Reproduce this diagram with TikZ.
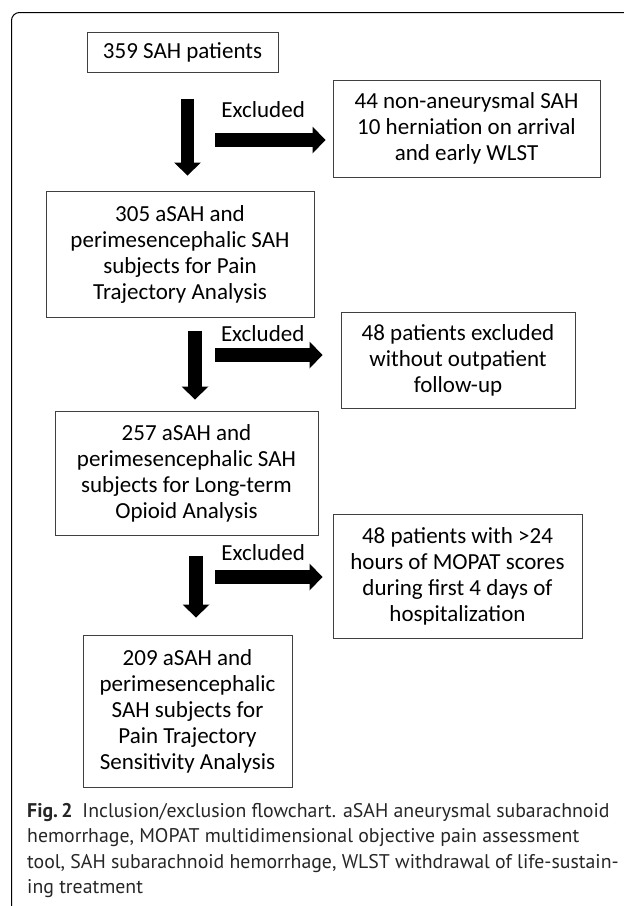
\documentclass[tikz,border=0pt]{standalone}
\usepackage{fontspec}
\setmainfont{Carlito}
\newfontfamily\capfont{PT Sans}
\usetikzlibrary{positioning, arrows.meta}

\begin{document}
\begin{tikzpicture}[x=1pt, y=-1pt,
    box/.style={rectangle, draw=black!75, line width=1pt, align=center, inner sep=0pt, font=\fontsize{23}{26}\selectfont},
    bigarrow/.style={line width=13.5pt, -{Triangle[width=27pt, length=13pt, line width=0pt]}},
    excl/.style={inner sep=0pt, font=\fontsize{23}{26}\selectfont},
]
\useasboundingbox (0,0) rectangle (624,906);

% frame of the figure
\draw[line width=1pt, rounded corners=8pt] (640,12.5) -- (11.5,12.5) -- (11.5,914) -- (40,914);

% main column
\node (all) [box, minimum width=191pt, minimum height=40pt] at (182.5,52) {359 SAH patients};
\node (pain) [box, below=118pt of all, xshift=-2.5pt, minimum width=268pt, minimum height=126pt] {305 aSAH and\\perimesencephalic SAH\\subjects for Pain\\Trajectory Analysis};
\node (opioid) [box, below=93pt of pain, xshift=6.5pt, minimum width=263pt, minimum height=124pt] {257 aSAH and\\perimesencephalic SAH\\subjects for Long-term\\Opioid Analysis};
\node (sens) [box, below=99pt of opioid, xshift=1pt, minimum width=209pt, minimum height=152pt] {209 aSAH and\\perimesencephalic\\SAH subjects for\\Pain Trajectory\\Sensitivity Analysis};

% excluded boxes
\node (excl1) [box, minimum width=267pt, minimum height=97pt] at (466.5,128.5) {44 non-aneurysmal SAH\\10 herniation on arrival\\and early WLST};
\node (excl2) [box, minimum width=234pt, minimum height=96pt] at (458,360) {48 patients excluded\\without outpatient\\follow-up};
\node (excl3) [box, minimum width=249pt, minimum height=124pt] at (457.5,576) {48 patients with >24\\hours of MOPAT scores\\during first 4 days of\\hospitalization};

% arrows
\coordinate (x1) at (215,140);
\coordinate (x2) at (215,355);
\coordinate (x3) at (215,577);

\draw[bigarrow, shorten <=26pt, shorten >=15pt] ([xshift=5pt]all.south) -- ([xshift=5pt]all.south |- pain.north);
\draw[bigarrow, shorten <=13pt, shorten >=11pt] ([xshift=15pt]pain.south) -- ([xshift=15pt]pain.south |- opioid.north);
\draw[bigarrow, shorten <=20pt, shorten >=17pt] ([xshift=9.5pt]opioid.south) -- ([xshift=9.5pt]opioid.south |- sens.north);

\draw[bigarrow, shorten >=7pt] (x1) -- (x1 -| excl1.west) node[excl, pos=0.41, above=16pt] {Excluded};
\draw[bigarrow, shorten >=18pt] (x2) -- (x2 -| excl2.west) node[excl, pos=0.38, above=7pt] {Excluded};
\draw[bigarrow, shorten >=10pt] (x3) -- (x3 -| excl3.west) node[excl, pos=0.41, above=10pt] {Excluded};

% caption
\node (caption) [anchor=north west, align=left, inner sep=0pt, text=black!85, font=\capfont\fontsize{19.8}{25.5}\selectfont] at (27,803) {\textbf{Fig.\,2}\hspace{0.5em}Inclusion/exclusion flowchart. aSAH aneurysmal subarachnoid\\hemorrhage, MOPAT multidimensional objective pain assessment\\tool, SAH subarachnoid hemorrhage, WLST withdrawal of life-sustain-\\ing treatment};
\end{tikzpicture}
\end{document}
